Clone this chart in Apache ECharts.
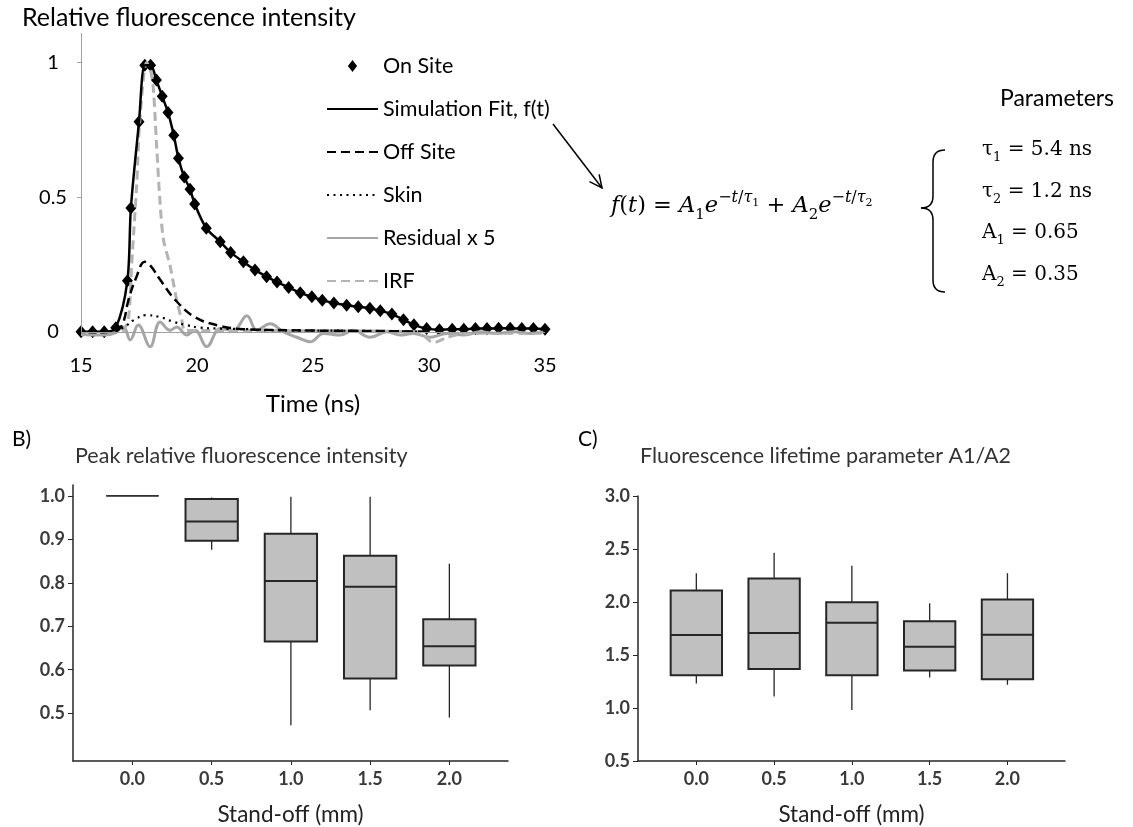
<!DOCTYPE html>
<html>
<head>
<meta charset="utf-8">
<script src="https://cdn.jsdelivr.net/npm/echarts@6/dist/echarts.min.js"></script>
<style>
    html, body { margin: 0; padding: 0; background: #fff; }
    #main { width: 1133px; height: 827px; }
</style>
</head>
<body>
<div id="main"></div>
<script>
// ---- A) decay curves (time in ns, relative intensity) ----
var onSiteT = [15.0, 15.5, 16.0, 16.5, 17.0, 17.15, 17.5, 17.75, 18.0, 18.25, 18.5, 18.75, 19.0, 19.2, 19.45, 19.7, 19.9,
    20.4, 21.0, 21.45, 22.0, 22.5, 23.0, 23.45, 23.95, 24.45, 24.95, 25.4, 25.9, 26.45, 26.95, 27.45, 27.9, 28.4, 28.9,
    29.35, 29.9, 30.45, 31.0, 31.5, 32.0, 32.5, 33.0, 33.5, 34.0, 34.5, 35.0];
var onSiteV = [0.0, 0.0, 0.0, 0.015, 0.19, 0.46, 0.78, 0.99, 0.99, 0.935, 0.875, 0.815, 0.73, 0.645, 0.575, 0.53, 0.475,
    0.385, 0.335, 0.295, 0.26, 0.23, 0.205, 0.185, 0.165, 0.145, 0.13, 0.117, 0.107, 0.099, 0.093, 0.088, 0.078, 0.066, 0.045,
    0.026, 0.012, 0.008, 0.01, 0.01, 0.012, 0.012, 0.013, 0.013, 0.012, 0.012, 0.01];
var offSiteT = [16.5, 16.8, 17.05, 17.35, 17.75, 18.0, 18.4, 19.05, 19.9, 21.0, 22.0, 24.0, 26.0, 28.0, 30.0];
var offSiteV = [0.0, 0.03, 0.12, 0.195, 0.26, 0.245, 0.195, 0.12, 0.055, 0.022, 0.01, 0.006, 0.004, 0.003, 0.0];
var skinT = [16.5, 16.9, 17.3, 17.8, 18.4, 19.0, 19.55, 20.1, 21.0, 22.1, 23.6, 26.5, 29.3, 30.0];
var skinV = [0.0, 0.02, 0.045, 0.062, 0.055, 0.037, 0.025, 0.016, 0.012, 0.01, 0.006, 0.004, 0.001, 0.0];
var irfT = [16.8, 17.04, 17.18, 17.4, 17.54, 17.83, 18.0, 18.12, 18.26, 18.4, 18.55, 18.84, 19.12, 19.34, 19.5, 21.0,
    25.0, 29.5, 30.2, 30.8, 31.5, 33.0, 35.0];
var irfV = [0.0, 0.045, 0.245, 0.545, 0.79, 1.0, 0.97, 0.9, 0.69, 0.49, 0.345, 0.245, 0.12, 0.045, 0.005, 0.005,
    0.004, 0.0, -0.04, -0.02, -0.008, -0.005, -0.005];
var residT = [15.0, 15.8, 16.4, 16.83, 17.12, 17.47, 17.98, 18.41, 18.84, 19.13, 19.56, 19.92, 20.42, 21.0, 21.57, 22.15,
    22.58, 23.15, 23.73, 24.3, 24.88, 25.45, 26.17, 26.74, 27.46, 28.18, 28.76, 29.33, 30.05, 30.77, 31.49, 32.2, 32.92,
    33.64, 34.36, 34.93];
var residV = [-0.01, -0.012, -0.006, 0.018, -0.03, 0.025, -0.055, 0.037, 0.006, 0.018, -0.012, 0.006, -0.055, 0.012, 0.006, 0.06,
    0.006, 0.03, 0.0, -0.02, -0.037, -0.006, -0.012, 0.006, -0.02, 0.0, -0.012, -0.006, -0.02, -0.006, -0.012, 0.0, -0.006,
    0.0, -0.006, 0.0];
var timeTicks = [15, 20, 25, 30, 35];
var intensityTicks = [0, 0.5, 1];

// ---- B) / C) box plots per stand-off ----
var standOff = [0, 0.5, 1.0, 1.5, 2.0];
var peakMin = [1.0, 0.876, 0.472, 0.507, 0.49];
var peakQ1 = [1.0, 0.897, 0.665, 0.58, 0.61];
var peakMed = [1.0, 0.941, 0.804, 0.791, 0.654];
var peakQ3 = [1.0, 0.993, 0.913, 0.862, 0.716];
var peakMax = [1.0, 0.996, 0.998, 0.998, 0.844];
var ratioMin = [1.231, 1.108, 0.982, 1.288, 1.219];
var ratioQ1 = [1.31, 1.367, 1.31, 1.354, 1.272];
var ratioMed = [1.689, 1.707, 1.805, 1.578, 1.692];
var ratioQ3 = [2.108, 2.221, 1.997, 1.818, 2.023];
var ratioMax = [2.272, 2.464, 2.341, 1.988, 2.272];
var peakTicks = [0.5, 0.6, 0.7, 0.8, 0.9, 1.0];

var SANS = 'Lato, "Open Sans", sans-serif';
var SERIF = '"DejaVu Serif", "Liberation Serif", serif';
var BOX_WIDTH = 0.33;
var HIDE_SYMBOL = { opacity: 0 };

function zipXY(xs, ys) {
    var out = [];
    for (var i = 0; i < xs.length; i++) {
        out.push([xs[i], ys[i]]);
    }
    return out;
}

function boxRows(mins, q1s, meds, q3s, maxs) {
    var rows = [];
    for (var i = 0; i < standOff.length; i++) {
        rows.push([standOff[i], mins[i], q1s[i], meds[i], q3s[i], maxs[i]]);
    }
    return rows;
}

function renderBox(params, api) {
    var x = api.value(0);
    var lo = api.coord([x, api.value(1)]);
    var q1 = api.coord([x, api.value(2)]);
    var md = api.coord([x, api.value(3)]);
    var q3 = api.coord([x, api.value(4)]);
    var hi = api.coord([x, api.value(5)]);
    var w = api.size([BOX_WIDTH, 0])[0];
    var stroke = '#262626';
    var flat = Math.abs(q1[1] - q3[1]) < 0.5;
    return {
        type: 'group',
        children: [
            { type: 'line', shape: { x1: lo[0], y1: lo[1], x2: q1[0], y2: q1[1] }, style: { stroke: stroke, lineWidth: 1.3 } },
            { type: 'line', shape: { x1: q3[0], y1: q3[1], x2: hi[0], y2: hi[1] }, style: { stroke: stroke, lineWidth: 1.3 } },
            { type: 'rect', shape: { x: q3[0] - w / 2, y: q3[1], width: w, height: q1[1] - q3[1] },
              style: { fill: '#c0c0c0', stroke: stroke, lineWidth: flat ? 0.8 : 2 } },
            { type: 'line', shape: { x1: md[0] - w / 2, y1: md[1], x2: md[0] + w / 2, y2: md[1] },
              style: { stroke: stroke, lineWidth: flat ? 1.3 : 2 } }
        ]
    };
}

function boxXAxis(gridIndex) {
    return {
        type: 'value', gridIndex: gridIndex, min: -0.375, max: 2.37,
        name: 'Stand-off (mm)', nameLocation: 'middle', nameGap: 42,
        nameTextStyle: { fontFamily: SANS, fontSize: 22.5, color: '#222' },
        axisLine: { show: true, onZero: false, lineStyle: { color: '#262626', width: 1.5 } },
        axisTick: { show: true, length: 4, customValues: standOff, lineStyle: { color: '#262626' } },
        axisLabel: { customValues: standOff, margin: 9, fontFamily: SANS, fontSize: 18, fontWeight: 'bold', color: '#3a3a3a',
            formatter: function (v) { return v.toFixed(1); } },
        splitLine: { show: false }
    };
}

function paramRich() {
    return {
        n: { fontFamily: SERIF, fontSize: 20, lineHeight: 28, color: '#000' },
        sub: { fontFamily: SERIF, fontSize: 13, lineHeight: 13, verticalAlign: 'bottom', color: '#000' }
    };
}

function braceParts() {
    var st = { stroke: '#000', lineWidth: 1.5, fill: null };
    return [
        { type: 'bezierCurve', shape: { x1: 945, y1: 150, cpx1: 933, cpy1: 150, x2: 933, y2: 162 }, style: st },
        { type: 'line', shape: { x1: 933, y1: 162, x2: 933, y2: 196 }, style: st },
        { type: 'bezierCurve', shape: { x1: 933, y1: 196, cpx1: 933, cpy1: 208, x2: 921, y2: 208 }, style: st },
        { type: 'bezierCurve', shape: { x1: 921, y1: 208, cpx1: 933, cpy1: 208, x2: 933, y2: 220 }, style: st },
        { type: 'line', shape: { x1: 933, y1: 220, x2: 933, y2: 280 }, style: st },
        { type: 'bezierCurve', shape: { x1: 933, y1: 280, cpx1: 933, cpy1: 292, x2: 945, y2: 292 }, style: st }
    ];
}

var chart = echarts.init(document.getElementById('main'));

var arrowFrom = [553, 124], arrowTo = [602, 188];
var ang = Math.atan2(arrowTo[1] - arrowFrom[1], arrowTo[0] - arrowFrom[0]);
var headLen = 14;

var option = {
    backgroundColor: '#fff',
    animation: false,
    title: [
        { text: 'Relative fluorescence intensity', left: 17, top: 0,
          textStyle: { fontFamily: SANS, fontSize: 25, fontWeight: 'normal', color: '#000' } },
        { text: 'B)', left: 7, top: 424, textStyle: { fontFamily: SANS, fontSize: 21, fontWeight: 'normal', color: '#000' } },
        { text: 'C)', left: 573, top: 424, textStyle: { fontFamily: SANS, fontSize: 21, fontWeight: 'normal', color: '#000' } },
        { text: 'Peak relative fluorescence intensity', left: 70, top: 440,
          textStyle: { fontFamily: SANS, fontSize: 21.5, fontWeight: 'normal', color: '#333' } },
        { text: 'Fluorescence lifetime parameter A1/A2', left: 635, top: 440,
          textStyle: { fontFamily: SANS, fontSize: 21.5, fontWeight: 'normal', color: '#333' } }
    ],
    legend: {
        orient: 'vertical', left: 321, top: 50,
        itemWidth: 51, itemHeight: 12, itemGap: 21,
        symbolKeepAspect: true,
        textStyle: { fontFamily: SANS, fontSize: 21.5, lineHeight: 22, color: '#000' },
        data: [
            { name: 'On Site', icon: 'path://M5,0L10,6.5L5,13L0,6.5Z' },
            { name: 'Simulation Fit, f(t)', itemStyle: HIDE_SYMBOL },
            { name: 'Off Site', itemStyle: HIDE_SYMBOL },
            { name: 'Skin', itemStyle: HIDE_SYMBOL },
            { name: 'Residual x 5', itemStyle: HIDE_SYMBOL },
            { name: 'IRF', itemStyle: HIDE_SYMBOL }
        ]
    },
    grid: [
        { left: 81, top: 33, width: 464, height: 315 },
        { left: 73, top: 485, width: 435, height: 276 },
        { left: 638, top: 496, width: 427, height: 265 }
    ],
    xAxis: [
        {
            type: 'value', gridIndex: 0, min: 15, max: 35, interval: 5,
            name: 'Time (ns)', nameLocation: 'middle', nameGap: 44,
            nameTextStyle: { fontFamily: SANS, fontSize: 24, color: '#000' },
            axisLine: { show: false, onZero: false }, axisTick: { show: false }, splitLine: { show: false },
            axisLabel: { customValues: timeTicks, margin: 8, fontFamily: SANS, fontSize: 20, color: '#000' }
        },
        boxXAxis(1),
        boxXAxis(2)
    ],
    yAxis: [
        {
            type: 'value', gridIndex: 0, min: -0.06, max: 1.11,
            axisLine: { show: false, onZero: false }, splitLine: { show: false },
            axisTick: { show: true, length: 4, customValues: intensityTicks, lineStyle: { color: '#a0a0a0' } },
            axisLabel: { customValues: intensityTicks, margin: 28, align: 'center', fontFamily: SANS, fontSize: 20, color: '#000' }
        },
        {
            type: 'value', gridIndex: 1, min: 0.39, max: 1.025,
            axisLine: { show: true, onZero: false, lineStyle: { color: '#262626', width: 1.5 } },
            axisTick: { show: true, length: 5, customValues: peakTicks, lineStyle: { color: '#262626' } },
            axisLabel: { customValues: peakTicks, margin: 8, fontFamily: SANS, fontSize: 18, fontWeight: 'bold', color: '#3a3a3a',
                formatter: function (v) { return v.toFixed(1); } },
            splitLine: { show: false }
        },
        {
            type: 'value', gridIndex: 2, min: 0.5, max: 3.0, interval: 0.5,
            axisLine: { show: true, onZero: false, lineStyle: { color: '#262626', width: 1.5 } },
            axisTick: { show: true, length: 5, lineStyle: { color: '#262626' } },
            axisLabel: { margin: 8, fontFamily: SANS, fontSize: 18, fontWeight: 'bold', color: '#3a3a3a',
                formatter: function (v) { return v.toFixed(1); } },
            splitLine: { show: false }
        }
    ],
    series: [
        {
            name: 'Residual x 5', type: 'line', xAxisIndex: 0, yAxisIndex: 0,
            data: zipXY(residT, residV), smooth: 0.4, symbol: 'none',
            lineStyle: { color: '#a6a6a6', width: 3 }, itemStyle: { color: '#a6a6a6' },
            markLine: {
                silent: true, symbol: ['none', 'none'], label: { show: false },
                lineStyle: { color: '#a0a0a0', width: 1, type: 'solid' },
                data: [
                    [{ coord: [15, 0] }, { coord: [15, 1.11] }],
                    [{ coord: [15, 0] }, { coord: [35, 0] }]
                ]
            }
        },
        {
            name: 'IRF', type: 'line', xAxisIndex: 0, yAxisIndex: 0,
            data: zipXY(irfT, irfV), smooth: 0.3, symbol: 'none',
            lineStyle: { color: '#b3b3b3', width: 3, type: [9, 5] }, itemStyle: { color: '#b3b3b3' }
        },
        {
            name: 'Skin', type: 'line', xAxisIndex: 0, yAxisIndex: 0,
            data: zipXY(skinT, skinV), smooth: 0.4, symbol: 'none',
            lineStyle: { color: '#000', width: 2.2, type: [2, 4.5] }, itemStyle: { color: '#000' }
        },
        {
            name: 'Off Site', type: 'line', xAxisIndex: 0, yAxisIndex: 0,
            data: zipXY(offSiteT, offSiteV), smooth: 0.4, symbol: 'none',
            lineStyle: { color: '#000', width: 2.5, type: [9, 5] }, itemStyle: { color: '#000' }
        },
        {
            name: 'Simulation Fit, f(t)', type: 'line', xAxisIndex: 0, yAxisIndex: 0,
            data: zipXY(onSiteT, onSiteV), smooth: 0.3, symbol: 'none',
            lineStyle: { color: '#000', width: 2.5 }, itemStyle: { color: '#000' }
        },
        {
            name: 'On Site', type: 'scatter', xAxisIndex: 0, yAxisIndex: 0,
            data: zipXY(onSiteT, onSiteV), symbol: 'diamond', symbolSize: [11, 13],
            itemStyle: { color: '#000', opacity: 1 }
        },
        {
            name: 'peak', type: 'custom', xAxisIndex: 1, yAxisIndex: 1,
            renderItem: renderBox, encode: { x: 0, y: [1, 2, 3, 4, 5] },
            data: boxRows(peakMin, peakQ1, peakMed, peakQ3, peakMax)
        },
        {
            name: 'ratio', type: 'custom', xAxisIndex: 2, yAxisIndex: 2,
            renderItem: renderBox, encode: { x: 0, y: [1, 2, 3, 4, 5] },
            data: boxRows(ratioMin, ratioQ1, ratioMed, ratioQ3, ratioMax)
        }
    ],
    graphic: [
        // arrow from the fit legend entry to the formula
        { type: 'line', shape: { x1: arrowFrom[0], y1: arrowFrom[1], x2: arrowTo[0], y2: arrowTo[1] },
          style: { stroke: '#000', lineWidth: 1.5 } },
        { type: 'polyline', shape: { points: [
            [arrowTo[0] - headLen * Math.cos(ang - 0.45), arrowTo[1] - headLen * Math.sin(ang - 0.45)],
            arrowTo,
            [arrowTo[0] - headLen * Math.cos(ang + 0.45), arrowTo[1] - headLen * Math.sin(ang + 0.45)]
          ] }, style: { stroke: '#000', lineWidth: 1.5, fill: null } },
        {
            type: 'text', left: 611, top: 190,
            style: {
                text: '{i|f}{n|(}{i|t}{n|) = }{i|A}{sub|1}{i|e}{sup|−}{supi|t}{sup|/}{supi|τ}{supsub|1}{n| + }{i|A}{sub|2}{i|e}{sup|−}{supi|t}{sup|/}{supi|τ}{supsub|2}',
                fill: '#000',
                rich: {
                    n: { fontFamily: SERIF, fontSize: 22.5, lineHeight: 33 },
                    i: { fontFamily: SERIF, fontSize: 22.5, fontStyle: 'italic', lineHeight: 33 },
                    sub: { fontFamily: SERIF, fontSize: 15, lineHeight: 15, verticalAlign: 'bottom' },
                    sup: { fontFamily: SERIF, fontSize: 16, lineHeight: 16, verticalAlign: 'top' },
                    supi: { fontFamily: SERIF, fontSize: 16, fontStyle: 'italic', lineHeight: 16, verticalAlign: 'top' },
                    supsub: { fontFamily: SERIF, fontSize: 11, lineHeight: 11, verticalAlign: 'top', padding: [8, 0, 0, 0] }
                }
            }
        },
        { type: 'group', children: braceParts() },
        { type: 'text', left: 1000, top: 87, style: { text: 'Parameters', font: '23px ' + SANS, fill: '#000' } },
        { type: 'text', left: 982, top: 140, style: { text: '{n|τ}{sub|1}{n| = 5.4 ns}', rich: paramRich() } },
        { type: 'text', left: 982, top: 182, style: { text: '{n|τ}{sub|2}{n| = 1.2 ns}', rich: paramRich() } },
        { type: 'text', left: 982, top: 223, style: { text: '{n|A}{sub|1}{n| = 0.65}', rich: paramRich() } },
        { type: 'text', left: 982, top: 265, style: { text: '{n|A}{sub|2}{n| = 0.35}', rich: paramRich() } }
    ]
};

chart.setOption(option);
</script>
</body>
</html>
